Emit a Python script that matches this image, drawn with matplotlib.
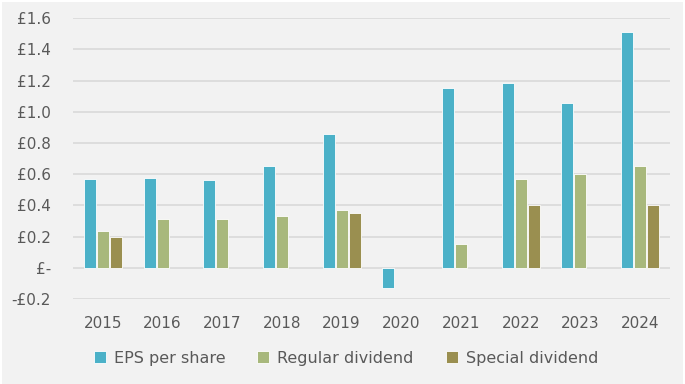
import numpy as np
import matplotlib.pyplot as plt
from matplotlib.patches import Rectangle
from matplotlib.ticker import FuncFormatter

# Values (GBP per share)
years = ['2015', '2016', '2017', '2018', '2019', '2020', '2021', '2022', '2023', '2024']
eps = [0.57, 0.575, 0.56, 0.65, 0.86, -0.13, 1.155, 1.185, 1.055, 1.51]
regular = [0.235, 0.31, 0.315, 0.33, 0.37, 0.0, 0.15, 0.57, 0.60, 0.65]
special = [0.20, 0.0, 0.0, 0.0, 0.35, 0.0, 0.0, 0.40, 0.0, 0.40]

series_names = ['EPS per share', 'Regular dividend', 'Special dividend']
colours = ['#4bb1c8', '#a8b87c', '#9a8f50']

plt.rcParams['font.family'] = ['DejaVu Sans']
text_col = '#595959'

fig = plt.figure(figsize=(6.85, 3.84), dpi=100, facecolor='white')
# grey chart background with a thin white frame
fig.patches.append(Rectangle((2 / 685, 0), 681 / 685, 382 / 384, transform=fig.transFigure,
                             facecolor='#f2f2f2', edgecolor='none', zorder=-1))

ax = fig.add_axes([73 / 685, 1 - 299 / 384, 597 / 685, (299 - 18.3) / 384])
ax.set_facecolor('none')

x = np.arange(len(years))
step = 0.218
width = 0.2
for i, (vals, name, col) in enumerate(zip([eps, regular, special], series_names, colours)):
    v = np.array(vals)
    mask = v != 0
    ax.bar(x[mask] + (i - 1) * step, v[mask], width=width, color=col,
           edgecolor='white', linewidth=0.6, label=name, zorder=3)

ax.set_xlim(-0.5, len(years) - 0.5)
ax.set_ylim(-0.2, 1.6)
ax.set_yticks(np.arange(-0.2, 1.61, 0.2))


def gbp(v, pos):
    if abs(v) < 1e-9:
        return '£-'
    if v < 0:
        return '-£%.1f' % abs(v)
    return '£%.1f' % v


ax.yaxis.set_major_formatter(FuncFormatter(gbp))
ax.set_xticks(x)
ax.set_xticklabels(years)
ax.grid(axis='y', color='#d9d9d9', linewidth=1.2, zorder=0)
ax.tick_params(axis='both', length=0, colors=text_col, labelsize=11)
ax.tick_params(axis='x', pad=12)
ax.tick_params(axis='y', pad=16)
for s in ax.spines.values():
    s.set_visible(False)

handles, labels = ax.get_legend_handles_labels()
fig.legend(handles, labels, loc='center', bbox_to_anchor=(346 / 685, 1 - 358 / 384),
           ncol=3, frameon=False, fontsize=11.5, handlelength=0.75, handleheight=0.75,
           handletextpad=0.5, columnspacing=2.0, labelcolor=text_col)

fig.savefig('out.png', dpi=100, facecolor=fig.get_facecolor())
